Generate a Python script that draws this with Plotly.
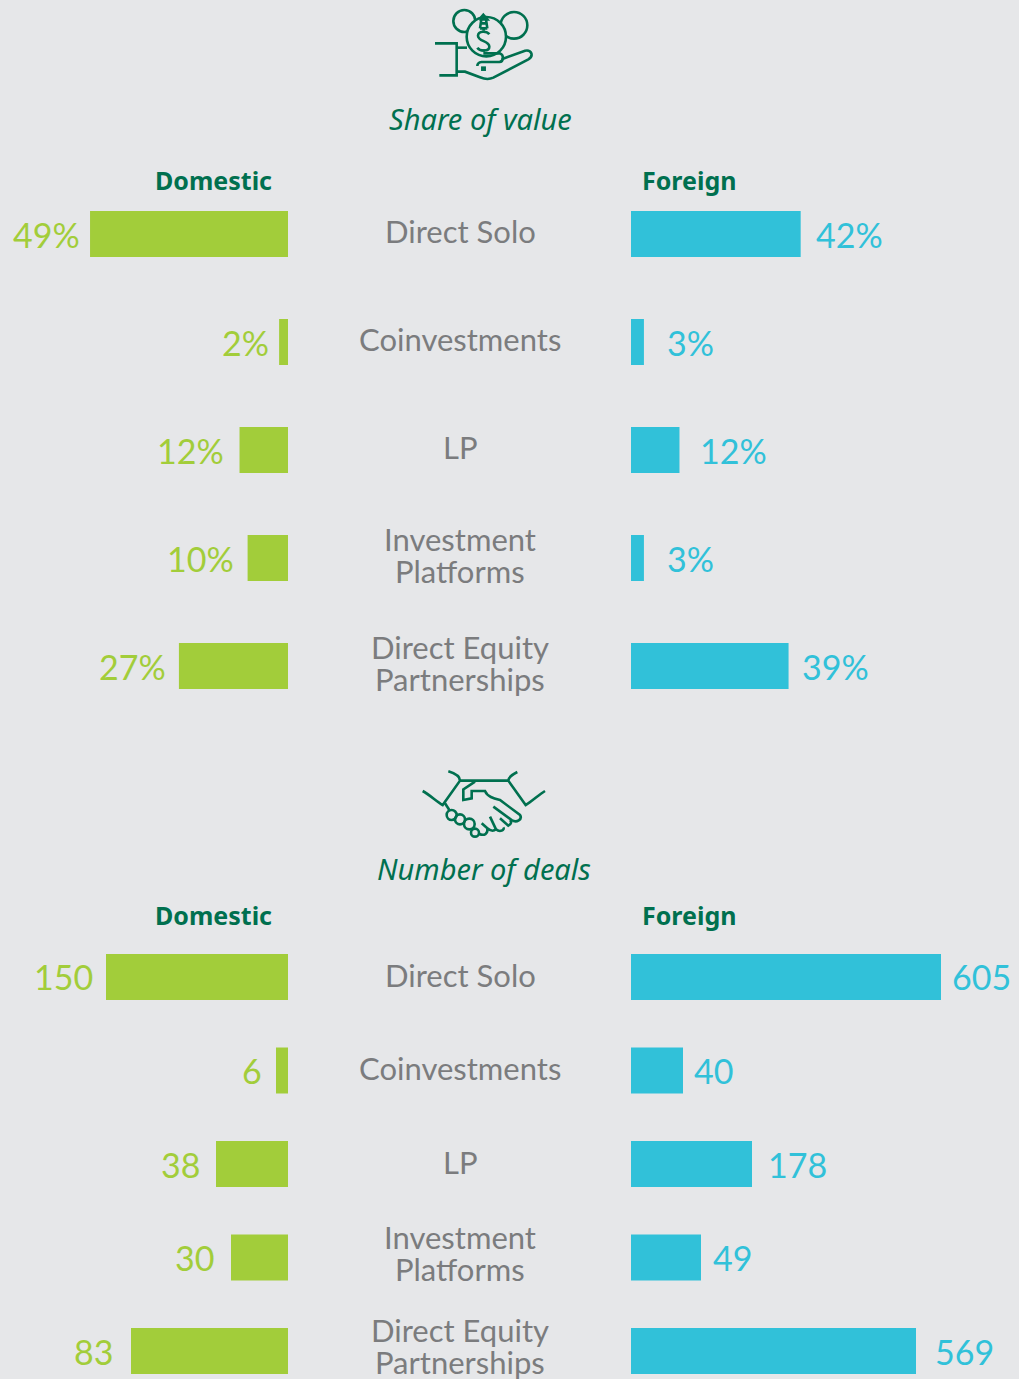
import re
import plotly.graph_objects as go

W, H = 1019, 1379
BG = "#E6E7E9"
GREEN = "#00704F"
LIME = "#A2CD3A"
BLUE = "#31C1D9"
GREY = "#7B7C7E"
LABEL_FONT = "Lato"
TITLE_FONT = "Noto Sans"

categories = ["Direct Solo", "Coinvestments", "LP", "Investment<br>Platforms", "Direct Equity<br>Partnerships"]

# Share of value: printed labels and the bar lengths as drawn (percent)
share_domestic_labels = ["49%", "2%", "12%", "10%", "27%"]
share_foreign_labels = ["42%", "3%", "12%", "3%", "39%"]
share_domestic = [49, 2.2, 12, 10, 27]
share_foreign = [42, 3.2, 12, 3.2, 39]

# Number of deals: printed labels; the artwork's bars are not proportional to
# them, so the lengths are read separately from the picture
deals_domestic_labels = ["150", "6", "38", "30", "83"]
deals_foreign_labels = ["605", "40", "178", "49", "569"]
deals_domestic = [182, 12, 72, 57, 157]
deals_foreign = [310, 52, 121, 70, 285]

# layout constants (pixels)
LEFT_END, RIGHT_START = 288, 631
SHARE_PX_PER_UNIT = 4.04
gap_share_dom = [8, 8, 14, 12, 11]
gap_share_for = [13, 21, 19, 21, 11]
gap_deals_dom = [11, 12, 14, 15, 16]
gap_deals_for = [9, 9, 14, 10, 17]

fig = go.Figure()


def add_bars(xa, ya, vals, color):
    fig.add_bar(x=vals, y=list(range(5)), orientation="h", marker=dict(color=color, line_width=0),
                xaxis=xa, yaxis=ya, showlegend=False, hoverinfo="skip")


add_bars("x", "y", share_domestic, LIME)
add_bars("x2", "y2", share_foreign, BLUE)
add_bars("x3", "y3", deals_domestic, LIME)
add_bars("x4", "y4", deals_foreign, BLUE)
fig.add_scatter(x=[0, W], y=[0, H], mode="markers", marker=dict(opacity=0), xaxis="x5", yaxis="y5",
                showlegend=False, hoverinfo="skip")

hidden = dict(visible=False, fixedrange=True)
top_centre, top_pitch = 234, 108
bot_centre, bot_pitch = 977, 93.5
top_span = (top_centre - top_pitch / 2, top_centre + 4.5 * top_pitch)
bot_span = (bot_centre - bot_pitch / 2, H)
bot_max = (H - bot_centre) / bot_pitch


def ydom(span):
    return [1 - span[1] / H, 1 - span[0] / H]


fig.update_layout(
    width=W, height=H, margin=dict(l=0, r=0, t=0, b=0), autosize=False,
    paper_bgcolor=BG, plot_bgcolor="rgba(0,0,0,0)", barmode="overlay",
    xaxis=dict(domain=[0, LEFT_END / W], range=[LEFT_END / SHARE_PX_PER_UNIT, 0], **hidden),
    xaxis2=dict(domain=[RIGHT_START / W, 1], range=[0, (W - RIGHT_START) / SHARE_PX_PER_UNIT], **hidden),
    xaxis3=dict(domain=[0, LEFT_END / W], range=[LEFT_END, 0], **hidden),
    xaxis4=dict(domain=[RIGHT_START / W, 1], range=[0, W - RIGHT_START], **hidden),
    xaxis5=dict(domain=[0, 1], range=[0, W], **hidden),
    yaxis=dict(domain=ydom(top_span), range=[4.5, -0.5], anchor="x", **hidden),
    yaxis2=dict(domain=ydom(top_span), range=[4.5, -0.5], anchor="x2", **hidden),
    yaxis3=dict(domain=ydom(bot_span), range=[bot_max, -0.5], anchor="x3", **hidden),
    yaxis4=dict(domain=ydom(bot_span), range=[bot_max, -0.5], anchor="x4", **hidden),
    yaxis5=dict(domain=[0, 1], range=[H, 0], anchor="x5", **hidden),
)
fig.data[0].width = 46 / top_pitch
fig.data[1].width = 46 / top_pitch
fig.data[2].width = 46 / bot_pitch
fig.data[3].width = 46 / bot_pitch


def note(text, x, y, xref="x5", yref="y5", size=31, color=GREY, anchor="center", family=LABEL_FONT,
         xshift=0, yshift=0):
    fig.add_annotation(text=text, x=x, y=y, xref=xref, yref=yref, showarrow=False, xanchor=anchor,
                       yanchor="middle", xshift=xshift, yshift=yshift,
                       font=dict(family=family, size=size, color=color))


VALUE_SIZE = 34


def panel(xd, yd, xf, yf, dom, fr, dom_labels, for_labels, gd, gf, adjust, vshift):
    for i, cat in enumerate(categories):
        note(dom_labels[i], dom[i], i, xd, yd, VALUE_SIZE, LIME, "right", xshift=-gd[i], yshift=vshift)
        note(for_labels[i], fr[i], i, xf, yf, VALUE_SIZE, BLUE, "left", xshift=gf[i], yshift=vshift)
        lines = cat.split("<br>")
        for j, line in enumerate(lines):
            off = (j - (len(lines) - 1) / 2) * 32
            note(line, 460, i, "x5", yd, 31, GREY, yshift=-(off + adjust[i]))


panel("x", "y", "x2", "y2", share_domestic, share_foreign, share_domestic_labels, share_foreign_labels,
      gap_share_dom, gap_share_for, [-3, -3, -3, -3, -3], 0)
panel("x3", "y3", "x4", "y4", deals_domestic, deals_foreign, deals_domestic_labels, deals_foreign_labels,
      gap_deals_dom, gap_deals_for, [-2, -3, -2, -5, -5], 0)

note("<i>Share of value</i>", 480, 118, size=29, color=GREEN, family=TITLE_FONT)
note("<i>Number of deals</i>", 484, 868, size=29, color=GREEN, family=TITLE_FONT)
for y in (180, 915):
    note("<b>Domestic</b>", 274, y, size=25, color=GREEN, anchor="right", family=TITLE_FONT)
    note("<b>Foreign</b>", 640, y, size=25, color=GREEN, anchor="left", family=TITLE_FONT)


def tf(path, ox, oy):
    nums = iter(range(10 ** 6))

    def rep(m):
        v = float(m.group(0)) / 3
        return f"{v + (ox if next(nums) % 2 == 0 else oy):.2f}"

    return re.sub(r"-?\d+(\.\d+)?", rep, path)


STROKE = 2.6


def line_shape(path, ox, oy):
    fig.add_shape(type="path", path=tf(path, ox, oy), xref="x5", yref="y5",
                  line=dict(color=GREEN, width=STROKE), fillcolor="rgba(0,0,0,0)")


def circle(cx, cy, r, ox, oy, fill=None):
    fig.add_shape(type="circle", xref="x5", yref="y5", x0=ox + (cx - r) / 3, x1=ox + (cx + r) / 3,
                  y0=oy + (cy - r) / 3, y1=oy + (cy + r) / 3,
                  line=dict(color=GREEN, width=STROKE), fillcolor=fill or "rgba(0,0,0,0)")


ox, oy = 420, 0
circle(133, 63, 33, ox, oy)
circle(282, 76, 40, ox, oy)
circle(199, 110, 59, ox, oy, BG)
for p in [
    "M45 130 L110 130 L110 226 L58 226",
    "M110 143 L141 143",
    "M190 160 L240 160 C252 165 252 185 238 186 L185 186 C176 187 172 192 172 198",
    "M245 178 L315 152 C335 148 342 168 325 178 L220 233 C205 240 195 238 180 232 L135 215 L110 215",
    "M208 103 C200 92 175 92 174 107 C174 125 208 122 208 140 C208 155 180 155 172 143",
    "M191 92 L191 85 M191 155 L191 148",
    "M178 58 L190 44 L202 58 L178 58 M180 70 L202 70 M180 85 L202 85 M184 58 L180 85 M198 58 L202 85",
    "M187 203 L194 203 L194 209 L187 209 Z",
]:
    line_shape(p, ox, oy)

ox, oy = 410, 760
for p in [
    "M150 62 L295 62",
    "M38 93 C60 105 80 125 98 135 L150 62 C150 50 135 40 115 34",
    "M405 93 C385 105 365 125 347 135 L295 62 C295 50 310 42 322 36",
    "M195 65 L160 88 L160 120 L185 115 L185 93 L225 93 C232 110 250 115 270 120 L330 165 C338 178 320 190 305 180 L250 140",
    "M300 180 C305 185 305 192 295 197 L270 175 M280 202 C285 210 270 218 258 208 L240 170",
    "M258 208 C250 215 240 212 232 205 L215 190 M232 205 C235 222 222 228 208 222",
    "M105 130 L118 150",
]:
    line_shape(p, ox, oy)
for c in [(125, 165, 15), (150, 178, 15), (178, 192, 16), (195, 218, 12)]:
    circle(*c, ox, oy)

fig.write_html("out.html", config=dict(displayModeBar=False),
               post_script="document.body.style.margin='0';document.body.style.background='%s';" % BG)
